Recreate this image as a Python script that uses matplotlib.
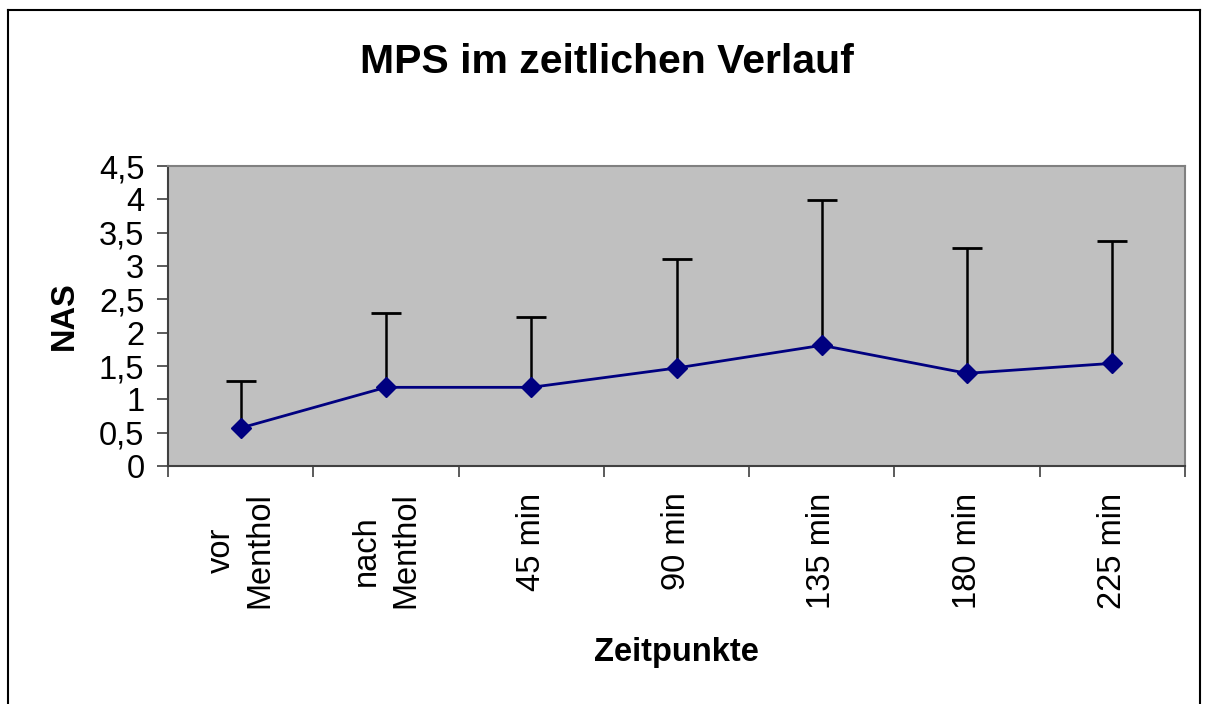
import matplotlib
matplotlib.use("Agg")
import matplotlib.pyplot as plt
from matplotlib.lines import Line2D

categories = ["vor\nMenthol", "nach\nMenthol", "45 min", "90 min", "135 min", "180 min", "225 min"]
means = [0.57, 1.18, 1.18, 1.47, 1.81, 1.39, 1.54]
upper = [1.27, 2.30, 2.23, 3.11, 3.99, 3.27, 3.38]
yticks = [0, 0.5, 1, 1.5, 2, 2.5, 3, 3.5, 4, 4.5]
ytick_labels = ["0", "0,5", "1", "1,5", "2", "2,5", "3", "3,5", "4", "4,5"]

plt.rcParams['font.family'] = ['Liberation Sans', 'DejaVu Sans']

W, H = 1205, 704
fig = plt.figure(figsize=(W / 100, H / 100), dpi=100)
fig.patch.set_facecolor("white")

L, R, T, B = 168, 1185, 166, 466
ax = fig.add_axes([L / W, 1 - B / H, (R - L) / W, (B - T) / H])
ax.set_facecolor("#C0C0C0")

x = list(range(len(categories)))

# upper-only error bars
ax.vlines(x, means, upper, color="black", linewidth=1.8, zorder=2)
ax.plot(x, upper, linestyle="none", marker="_", markersize=22, markeredgewidth=2,
        color="black", zorder=2)
ax.plot(x, means, color="#000080", linewidth=2, marker="D", markersize=10,
        markerfacecolor="#000080", markeredgecolor="#000080", zorder=3)

ax.set_xlim(-0.5, len(categories) - 0.5)
ax.set_ylim(0, 4.5)
ax.set_yticks(yticks)
ax.set_yticklabels(ytick_labels, fontsize=23.5)
ax.tick_params(axis="y", length=8, width=1.2, color="#404040", pad=9)

ax.set_xticks(x)
ax.set_xticklabels(categories, fontsize=23.5, rotation=90, va="top", ha="center",
                   multialignment="center", linespacing=1.35)
ax.tick_params(axis="x", which="major", length=0, pad=19)
ax.set_xticks([i - 0.5 for i in range(len(categories) + 1)], minor=True)
ax.tick_params(axis="x", which="minor", length=8, width=1.2, color="#404040")

for s in ["left", "bottom"]:
    ax.spines[s].set_color("#404040")
    ax.spines[s].set_linewidth(1.5)
for s in ["top", "right"]:
    ax.spines[s].set_color("#808080")
    ax.spines[s].set_linewidth(1.5)

ax.set_ylabel("NAS", fontsize=23.5, fontweight="bold")
ax.yaxis.set_label_coords((64 - L) / (R - L), 0.5)
ax.set_xlabel("Zeitpunkte", fontsize=23.5, fontweight="bold")
ax.xaxis.set_label_coords(0.5, (B - 652) / (B - T))
ax.xaxis.label.set_va("center")
ax.yaxis.label.set_va("center")

fig.text(607 / W, 1 - 62 / H, "MPS im zeitlichen Verlauf", fontsize=29.5,
         fontweight="bold", ha="center", va="center")

# figure frame
fx0, fx1, fy1 = 8 / W, 1200 / W, 1 - 10 / H
for xs, ys in [([fx0, fx0], [0, fy1]), ([fx0, fx1], [fy1, fy1]), ([fx1, fx1], [fy1, 0])]:
    fig.add_artist(Line2D(xs, ys, color="black", linewidth=1.5, transform=fig.transFigure))

fig.savefig("out.png", dpi=100, facecolor="white")
